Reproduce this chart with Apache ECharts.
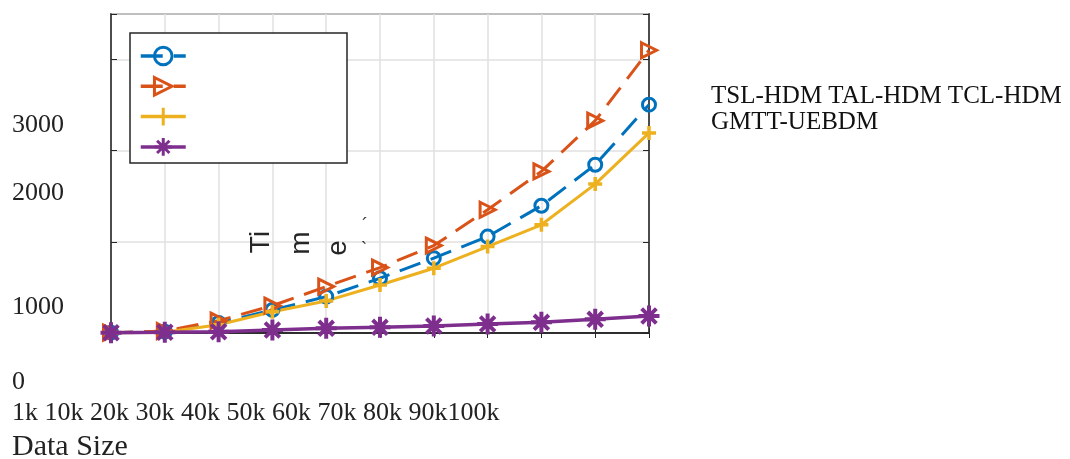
<!DOCTYPE html>
<html>
<head>
<meta charset="utf-8">
<script src="https://cdn.jsdelivr.net/npm/echarts@6/dist/echarts.min.js"></script>
<style>
html,body{margin:0;padding:0;background:#fff;}
#chart{width:1070px;height:459px;}
</style>
</head>
<body>
<div id="chart"></div>
<script>
// ---- data ----
const categories = ['1k','10k','20k','30k','40k','50k','60k','70k','80k','90k','100k'];
const seriesNames = ['TSL-HDM','TAL-HDM','TCL-HDM','GMTT-UEBDM'];
const tslHdm = [4, 15, 110, 253, 399, 601, 821, 1058, 1396, 1846, 2505];
const talHdm = [4, 22, 135, 300, 509, 718, 959, 1352, 1773, 2330, 3102];
const tclHdm = [4, 8, 90, 234, 352, 527, 711, 948, 1187, 1634, 2195];
const gmttUebdm = [3, 8, 14, 33, 51, 62, 77, 99, 117, 150, 187];
const yTickLabels = ['3000','2000','1000','0'];
const xAxisTitle = 'Data Size';
const yAxisTitleParts = ['Ti','m','e'];

const colors = ['#0072BD','#D95319','#EDB120','#7E2F8E'];
const serif = '"Liberation Serif", "DejaVu Serif", serif';
const sans = '"Liberation Sans", Arial, sans-serif';

const chart = echarts.init(document.getElementById('chart'), null, {renderer:'canvas'});

function mkSeries(name, data, color, symbol, size, dashed, lw, bw) {
  return {
    name: name, type: 'line', data: data, clip: false,
    symbol: symbol, symbolSize: size, showAllSymbol: true,
    lineStyle: {color: color, width: lw, type: dashed ? [22, 11] : 'solid'},
    itemStyle: {color: 'rgba(0,0,0,0)', borderColor: color, borderWidth: bw},
    emphasis: {disabled: true},
    animation: false
  };
}

const triRight = 'path://M0,0L10,5L0,10Z';
const plus = 'path://M5,0L5,10M0,5L10,5';
const aster = 'path://M5,0L5,10M0,5L10,5M1.5,1.5L8.5,8.5M1.5,8.5L8.5,1.5';

const yTickY = [125.5, 193.5, 307, 382];
const graphics = [];
// legend box
graphics.push({type:'rect', z: 3, shape:{x:130, y:33, width:217, height:130},
  style:{fill:'#fff', stroke:'#262626', lineWidth:1.5}});
yTickLabels.forEach((t, i) => {
  graphics.push({type:'text', x:12, y:yTickY[i], z:10,
    style:{text:t, font:'26px ' + serif, fill:'#222', align:'left', verticalAlign:'middle'}});
});
const xLine = categories.slice(0, -1).join(' ') + categories[categories.length - 1];
graphics.push({type:'text', x:12, y:413, z:10,
  style:{text:xLine, font:'26px ' + serif, fill:'#222', align:'left', verticalAlign:'middle'}});
graphics.push({type:'text', x:12, y:447, z:10,
  style:{text:xAxisTitle, font:'30px ' + serif, fill:'#222', align:'left', verticalAlign:'middle'}});
graphics.push({type:'text', x:711, y:96, z:10,
  style:{text:seriesNames.slice(0,3).join(' '), font:'25px ' + serif, fill:'#111', align:'left', verticalAlign:'middle'}});
graphics.push({type:'text', x:711, y:122, z:10,
  style:{text:seriesNames[3], font:'25px ' + serif, fill:'#111', align:'left', verticalAlign:'middle'}});
// broken rotated y-axis title
const titlePos = [[261, 242], [301, 243], [338, 248]];
yAxisTitleParts.forEach((t, i) => {
  graphics.push({type:'text', x:titlePos[i][0], y:titlePos[i][1], rotation: Math.PI/2, z:10,
    style:{text:t, font:'28px ' + sans, fill:'#262626', align:'center', verticalAlign:'middle'}});
});
graphics.push({type:'text', x:365, y:226, z:10,
  style:{text:'\u00b4', font:'18px ' + sans, fill:'#333', align:'center', verticalAlign:'middle'}});
graphics.push({type:'text', x:364, y:250, z:10,
  style:{text:'`', font:'18px ' + sans, fill:'#333', align:'center', verticalAlign:'middle'}});

const gridLine = {show:true, lineStyle:{color:'#e0e0e0', width:1.5}};
const option = {
  backgroundColor: '#fff',
  animation: false,
  grid: {left:111, right:421, top:14, bottom:126, show:true, borderColor:'#262626', borderWidth:1.5, backgroundColor:'#fff'},
  legend: {
    orient:'vertical', left:134, top:40, itemWidth:45, itemHeight:22, itemGap:9,
    data: seriesNames, formatter: function(){ return ''; }, z: 5,
    selectedMode: false, textStyle:{fontSize:1},
    lineStyle: {width: 3.5},
    itemStyle: {borderWidth: 3}
  },
  xAxis: [
    {type:'category', data:categories, boundaryGap:false,
     axisLine:{show:true, lineStyle:{color:'#262626', width:1.5}},
     axisTick:{show:true, inside:true, length:5, alignWithLabel:true, lineStyle:{color:'#262626'}},
     axisLabel:{show:false}, splitLine:gridLine},
    {type:'category', data:categories, boundaryGap:false, position:'top',
     axisLine:{show:true, lineStyle:{color:'#262626', width:1.5}},
     axisTick:{show:true, inside:true, length:5, lineStyle:{color:'#262626'}},
     axisLabel:{show:false}, splitLine:{show:false}}
  ],
  yAxis: [
    {type:'value', min:0, max:3500, interval:1000,
     axisLine:{show:true, lineStyle:{color:'#262626', width:1.5}},
     axisTick:{show:true, inside:true, length:6, lineStyle:{color:'#262626'}},
     axisLabel:{show:false}, splitLine:gridLine},
    {type:'value', min:0, max:3500, interval:1000, position:'right',
     axisLine:{show:true, lineStyle:{color:'#262626', width:1.5}},
     axisTick:{show:true, inside:true, length:6, lineStyle:{color:'#262626'}},
     axisLabel:{show:false}, splitLine:{show:false}}
  ],
  series: [
    mkSeries(seriesNames[0], tslHdm, colors[0], 'circle', 13, true, 3, 3),
    mkSeries(seriesNames[1], talHdm, colors[1], triRight, 15, true, 3, 3),
    mkSeries(seriesNames[2], tclHdm, colors[2], plus, 14, false, 3, 3.5),
    mkSeries(seriesNames[3], gmttUebdm, colors[3], aster, 21, false, 3.5, 4)
  ],
  graphic: graphics
};
chart.setOption(option);
</script>
</body>
</html>
